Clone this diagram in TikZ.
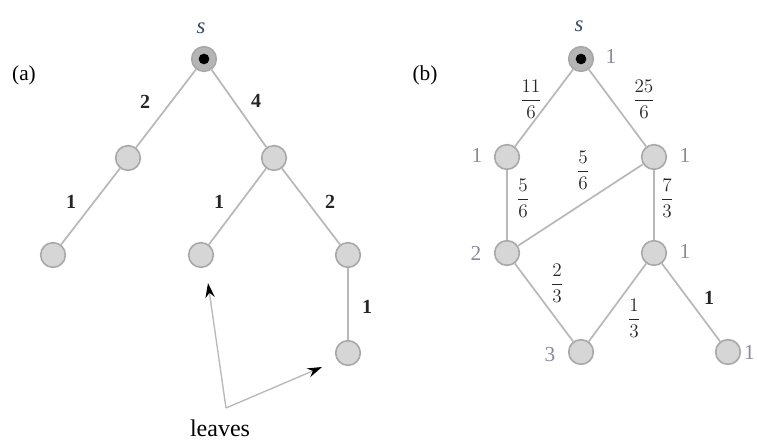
\documentclass[tikz,border=0pt]{standalone}
\usepackage{fontspec}
\setmainfont{Liberation Serif}
\usetikzlibrary{arrows.meta}
\definecolor{edgegray}{HTML}{B8B8B8}
\definecolor{nodefill}{HTML}{D6D6D6}
\definecolor{nodeline}{HTML}{A8A8A8}
\definecolor{lblgray}{HTML}{8A8A9A}
\definecolor{sblue}{HTML}{3A4A6A}
\newcommand{\fr}[2]{$\displaystyle\frac{#1}{#2}$}
\begin{document}
\begin{tikzpicture}[x=0.75pt,y=-0.75pt,
  vert/.style={circle,draw=nodeline,fill=nodefill,line width=1.2pt,minimum size=18.5pt,inner sep=0pt},
  src/.style={vert,fill=nodeline!85,path picture={\fill[black] (path picture bounding box.center) circle (4pt);}},
  edge/.style={draw=edgegray,line width=1.3pt},
  wt/.style={font=\fontsize{15}{17}\selectfont\bfseries,text=black!85,inner sep=1pt},
  frs/.style={font=\fontsize{15}{17}\selectfont,text=black!85,inner sep=1pt},
  nl/.style={font=\fontsize{16}{18}\selectfont,text=lblgray,inner sep=1pt},
  tag/.style={font=\fontsize{16}{18}\selectfont},
  slbl/.style={font=\fontsize{17}{19}\selectfont\itshape,text=sblue},
  ptr/.style={draw=edgegray,line width=1pt,-{Stealth[length=11pt,width=7pt,black]}}]
\useasboundingbox (0,0) rectangle (757,441);
% ---------- (a)
\node[tag] (la) at (24,75) {(a)};
\node[src] (as) at (204,59) {};
\node[slbl] (asl) at (201,28) {s};
\node[vert] (a1) at (128,158) {};
\node[vert] (a2) at (274,158) {};
\node[vert] (a3) at (53,255) {};
\node[vert] (a4) at (201,255) {};
\node[vert] (a5) at (348,255) {};
\node[vert] (a6) at (348,353) {};
\draw[edge] (as) -- (a1);
\draw[edge] (as) -- (a2);
\draw[edge] (a1) -- (a3);
\draw[edge] (a2) -- (a4);
\draw[edge] (a2) -- (a5);
\draw[edge] (a5) -- (a6);
\node[wt] (w1) at (145,102) {2};
\node[wt] (w2) at (256,101) {4};
\node[wt] (w3) at (71,202) {1};
\node[wt] (w4) at (219,202) {1};
\node[wt] (w5) at (330,202) {2};
\node[wt] (w6) at (367,307) {1};
\coordinate (corner) at (226,408);
\coordinate (t1) at (208,283);
\coordinate (t2) at (322,367);
\draw[ptr] (corner) -- (t1);
\draw[ptr] (corner) -- (t2);
\node[font=\fontsize{18}{20}\selectfont] (leaves) at (220,428) {leaves};
% ---------- (b)
\node[tag] (lb) at (425,75) {(b)};
\node[src] (bs) at (581,59) {};
\node[slbl] (bsl) at (579,26) {s};
\node[vert] (b1) at (507,157) {};
\node[vert] (b2) at (654,157) {};
\node[vert] (b3) at (507,253) {};
\node[vert] (b4) at (654,253) {};
\node[vert] (b5) at (581,352) {};
\node[vert] (b6) at (728,352) {};
\draw[edge] (bs) -- (b1);
\draw[edge] (bs) -- (b2);
\draw[edge] (b1) -- (b3);
\draw[edge] (b2) -- (b3);
\draw[edge] (b2) -- (b4);
\draw[edge] (b3) -- (b5);
\draw[edge] (b4) -- (b5);
\draw[edge] (b4) -- (b6);
\node[nl] (n0) at (611,56) {1};
\node[nl] (n1) at (477,155) {1};
\node[nl] (n2) at (685,155) {1};
\node[nl] (n3) at (476,253) {2};
\node[nl] (n4) at (685,251) {1};
\node[nl] (n5) at (550,355) {3};
\node[nl,anchor=east,inner sep=0pt] (n6) at (755,352) {1};
\node[frs] (f1) at (531,99) {\fr{11}{6}};
\node[frs] (f2) at (644,99) {\fr{25}{6}};
\node[frs] (f3) at (583,170) {\fr{5}{6}};
\node[frs] (f4) at (523,198) {\fr{5}{6}};
\node[frs] (f5) at (667,198) {\fr{7}{3}};
\node[frs] (f6) at (557,283) {\fr{2}{3}};
\node[frs] (f7) at (634,318) {\fr{1}{3}};
\node[wt] (f8) at (709,298) {1};
\end{tikzpicture}
\end{document}
